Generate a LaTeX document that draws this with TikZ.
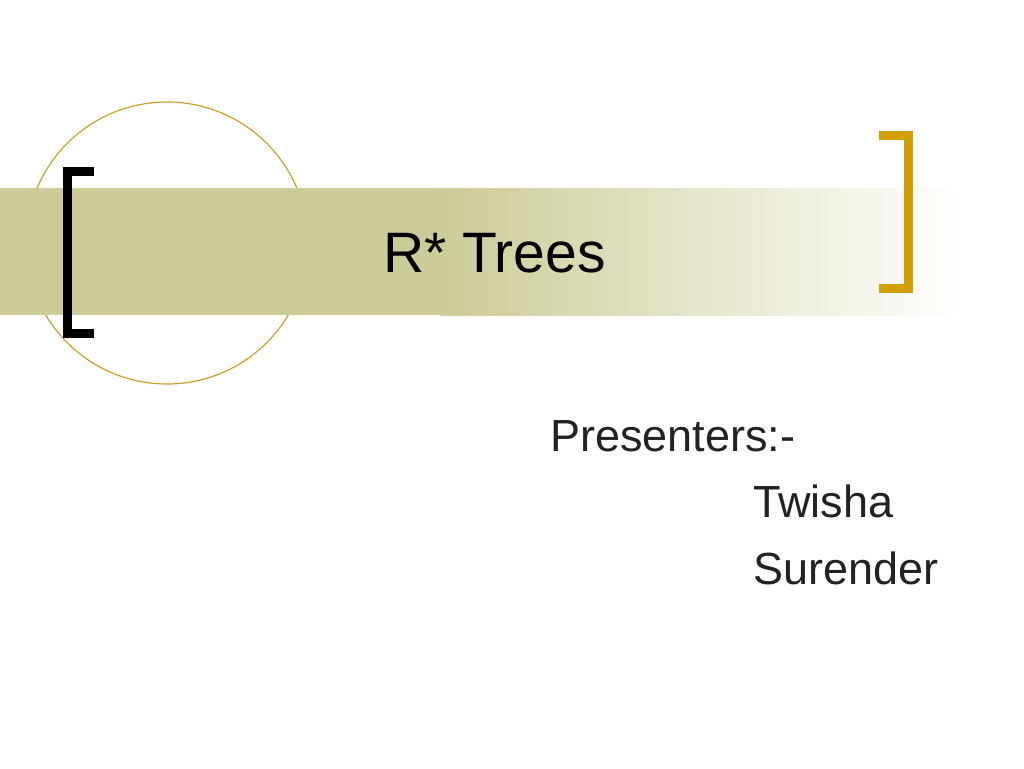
\documentclass[tikz,border=0pt]{standalone}
\usepackage{fontspec}
\setmainfont{Liberation Sans}
\definecolor{band}{RGB}{204,204,153}
\definecolor{ring}{RGB}{204,160,40}
\definecolor{gold}{RGB}{210,158,0}
\definecolor{txt}{RGB}{34,34,34}
\begin{document}
\begin{tikzpicture}[x=1pt,y=-1pt,
  bracketline/.style={line width=9pt,line cap=butt,line join=miter},
  label/.style={anchor=base west,inner sep=0pt,outer sep=0pt},
  sub/.style={label,text=txt,font=\fontsize{45}{54}\selectfont}]
\useasboundingbox[fill=white] (0,0) rectangle (1024,768);
% circle behind band
\draw[ring,line width=1.2pt] (167,243) circle[radius=141];
% band
\fill[band] (0,188) rectangle (441,315);
\shade[left color=band,right color=white,shading angle=90] (440,188) rectangle (962,315);
% left bracket
\draw[bracketline,black] (94,171) -- (67.5,171) -- (67.5,333) -- (94,333);
% right bracket
\draw[bracketline,gold] (879,135.5) -- (908,135.5) -- (908,288.5) -- (879,288.5);
% texts
\node[label,font=\fontsize{57}{68}\selectfont] (title) at (383,272) {R* Trees};
\node[sub] (pres) at (550,451) {Presenters:-};
\node[sub] (n1) at (753,517) {Twisha};
\node[sub] (n2) at (753,584) {Surender};
\end{tikzpicture}
\end{document}
